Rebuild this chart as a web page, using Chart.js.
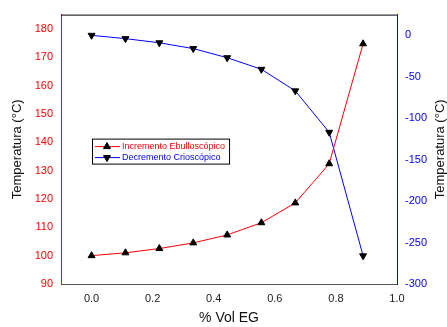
<!DOCTYPE html>
<html><head><meta charset="utf-8">
<script src="https://cdn.jsdelivr.net/npm/chart.js@4/dist/chart.umd.min.js"></script>
<style>html,body{margin:0;padding:0;background:#fff}#wrap{width:447px;height:327px}</style>
</head><body><div id="wrap"><canvas id="c" width="447" height="327"></canvas></div>
<script>
const volEG = [0, 0.111, 0.222, 0.333, 0.444, 0.556, 0.667, 0.778, 0.889];
const ebulloscopico = [100, 101, 102.5, 104.5, 107.3, 111.6, 118.6, 132.4, 174.7];
const crioscopico = [0, -4, -9, -16, -27, -41, -67, -117, -266];
const xTicks = [0, 0.2, 0.4, 0.6, 0.8, 1.0];
const leftTicks = [90, 100, 110, 120, 130, 140, 150, 160, 170, 180];
const rightTicks = [-300, -250, -200, -150, -100, -50, 0];
const seriesNames = ['Incremento Ebulloscópico', 'Decremento Crioscópico'];
const xTitle = '% Vol EG';
const yTitle = 'Temperatura (°C)';

const FONT = "'Liberation Sans', Arial, sans-serif";
const RED = '#ff0000', BLUE = '#0000ff';

const extras = {
  id: 'extras',
  afterDatasetsDraw(chart) {
    const {ctx, chartArea: a} = chart;
    ctx.save();
    // top frame line
    ctx.strokeStyle = '#000'; ctx.lineWidth = 1;
    ctx.beginPath(); ctx.moveTo(a.left, a.top + 0.5); ctx.lineTo(a.right, a.top + 0.5); ctx.stroke();
    // right title (reads bottom-to-top)
    ctx.fillStyle = '#111';
    ctx.font = '13px ' + FONT;
    ctx.textAlign = 'center'; ctx.textBaseline = 'middle';
    ctx.translate(440, (a.top + a.bottom) / 2);
    ctx.rotate(-Math.PI / 2);
    ctx.fillText(yTitle, 0, 0);
    ctx.restore();

    // legend box
    ctx.save();
    ctx.font = '9px ' + FONT;
    const bx = a.left + 31, by = a.top + 124;
    const textX = bx + 30;
    const tw = Math.max(...chart.data.datasets.map(d => ctx.measureText(d.label).width));
    const bw = textX + tw + 4 - bx, bh = 25;
    ctx.fillStyle = '#fff';
    ctx.fillRect(bx, by, bw, bh);
    ctx.strokeStyle = '#000'; ctx.lineWidth = 1;
    ctx.strokeRect(bx + 0.5, by + 0.5, bw, bh);
    chart.data.datasets.forEach((d, i) => {
      const y = by + 8 + i * 11;
      ctx.strokeStyle = d.borderColor; ctx.lineWidth = 1;
      ctx.beginPath(); ctx.moveTo(bx + 3, y); ctx.lineTo(bx + 28, y); ctx.stroke();
      ctx.fillStyle = '#000'; ctx.strokeStyle = '#000';
      Chart.helpers.drawPoint(ctx, {pointStyle: 'triangle', rotation: d.pointRotation || 0, radius: 4, borderWidth: 1}, bx + 15, y);
      ctx.fillStyle = d.borderColor;
      ctx.textAlign = 'left'; ctx.textBaseline = 'middle';
      ctx.fillText(d.label, textX, y);
    });
    ctx.restore();
  }
};

new Chart(document.getElementById('c'), {
  type: 'line',
  data: {
    datasets: [
      {
        label: seriesNames[0],
        data: volEG.map((x, i) => ({x, y: ebulloscopico[i]})),
        yAxisID: 'y',
        borderColor: RED, borderWidth: 1,
        pointStyle: 'triangle', pointRadius: 4, pointRotation: 0,
        pointBackgroundColor: '#000', pointBorderColor: '#000', pointBorderWidth: 1,
        tension: 0, fill: false
      },
      {
        label: seriesNames[1],
        data: volEG.map((x, i) => ({x, y: crioscopico[i]})),
        yAxisID: 'y2',
        borderColor: BLUE, borderWidth: 1,
        pointStyle: 'triangle', pointRadius: 4, pointRotation: 180,
        pointBackgroundColor: '#000', pointBorderColor: '#000', pointBorderWidth: 1,
        tension: 0, fill: false
      }
    ]
  },
  options: {
    responsive: false, animation: false, devicePixelRatio: 1,
    layout: {padding: {top: 13, left: 0, right: 0, bottom: 0}},
    plugins: {legend: {display: false}, tooltip: {enabled: false}},
    scales: {
      x: {
        type: 'linear', min: -0.1, max: 1.0,
        afterBuildTicks: s => { s.ticks = xTicks.map(v => ({value: v})); },
        afterFit: s => { s.height = 43; },
        grid: {display: false, drawTicks: false},
        border: {display: true, color: '#555', width: 1},
        ticks: {color: '#222', font: {family: FONT, size: 11}, padding: 8, maxRotation: 0,
          callback: v => Number(v).toFixed(1)},
        title: {display: true, text: xTitle, color: '#111', font: {family: FONT, size: 14}, padding: {top: 0, bottom: 0}}
      },
      y: {
        position: 'left', min: 90, max: 185,
        afterBuildTicks: s => { s.ticks = leftTicks.map(v => ({value: v})); },
        afterFit: s => { s.width = 61; },
        grid: {display: false, drawTicks: false},
        border: {display: true, color: RED, width: 1},
        ticks: {color: RED, font: {family: FONT, size: 11}, padding: 8},
        title: {display: true, text: yTitle, color: '#111', font: {family: FONT, size: 13}, padding: {top: 10, bottom: 0}}
      },
      y2: {
        position: 'right', min: -300, max: 25,
        afterBuildTicks: s => { s.ticks = rightTicks.map(v => ({value: v})); },
        afterFit: s => { s.width = 50; },
        grid: {display: false, drawTicks: false},
        border: {display: true, color: BLUE, width: 1},
        ticks: {color: BLUE, font: {family: FONT, size: 11}, padding: 8}
      }
    }
  },
  plugins: [extras]
});
</script></body></html>
